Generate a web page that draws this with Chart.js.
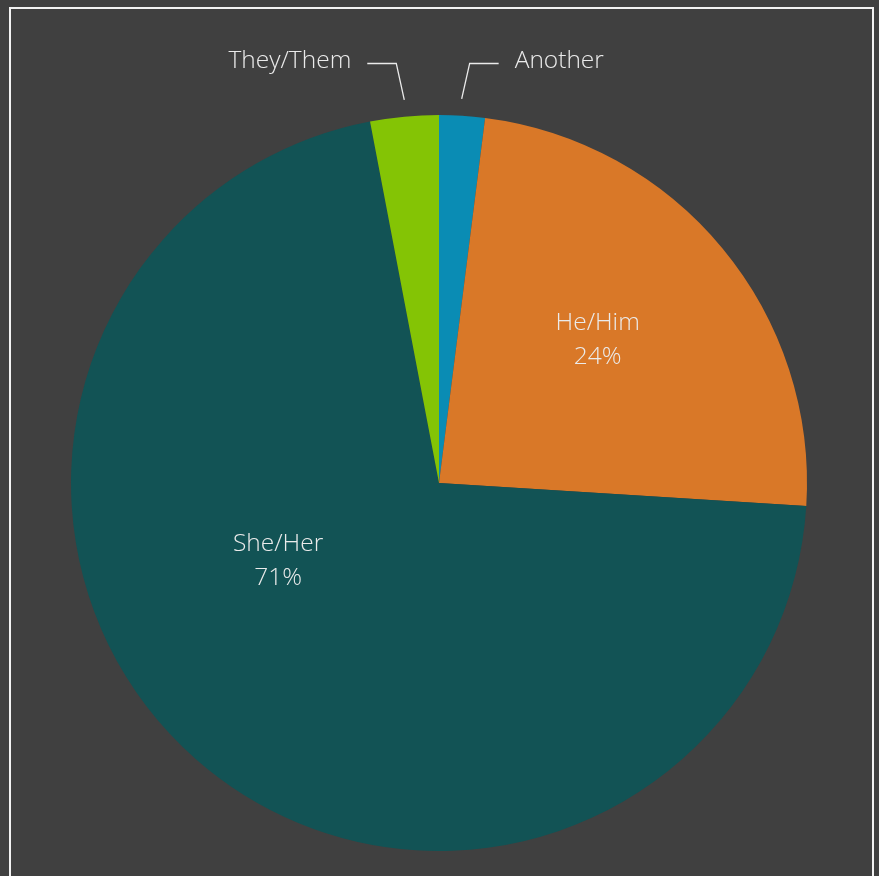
<!DOCTYPE html>
<html>
<head>
<meta charset="utf-8">
<title>Pronouns</title>
<script src="https://cdn.jsdelivr.net/npm/chart.js@4"></script>
<style>
  html, body { margin: 0; padding: 0; background: #404040; }
  #wrap { width: 879px; height: 876px; position: relative; }
</style>
</head>
<body>
<div id="wrap"><canvas id="chart-pronombres" width="879" height="876"></canvas></div>
<script>
// Datos del gráfico: orden en sentido horario empezando arriba
const etiquetas = ['Another', 'He/Him', 'She/Her', 'They/Them'];
const porcentajes = [2, 24, 71, 3];
const colores = ['#0a8cb4', '#d97828', '#125355', '#84c405'];

// Etiquetas dentro del sector (ángulo en grados desde arriba, radio relativo)
const etiquetasInternas = {
  'He/Him': { angulo: 47.8, radio: 0.582 },
  'She/Her': { angulo: 244.4, radio: 0.485 }
};
// Etiquetas externas con línea guía
const etiquetasExternas = ['Another', 'They/Them'];

const fuente = '300 24.5px "Open Sans", "Segoe UI", sans-serif';
const colorTexto = '#ebebeb';

const pluginEtiquetas = {
  id: 'etiquetasPastel',
  beforeDraw(chart) {
    const ctx = chart.ctx;
    ctx.save();
    ctx.fillStyle = '#404040';
    ctx.fillRect(0, 0, chart.width, chart.height);
    // marco blanco
    ctx.strokeStyle = '#f2f2f2';
    ctx.lineWidth = 2;
    ctx.beginPath();
    ctx.moveTo(10, chart.height + 5);
    ctx.lineTo(10, 8);
    ctx.lineTo(873, 8);
    ctx.lineTo(873, chart.height + 5);
    ctx.stroke();
    ctx.restore();
  },
  afterDraw(chart) {
    const ctx = chart.ctx;
    const arcos = chart.getDatasetMeta(0).data;
    const cx = arcos[0].x;
    const cy = arcos[0].y;
    const R = arcos[0].outerRadius;
    ctx.save();
    ctx.font = fuente;
    ctx.fillStyle = colorTexto;
    ctx.textBaseline = 'middle';

    etiquetas.forEach((nombre, i) => {
      const arco = arcos[i];
      const texto = porcentajes[i] + '%';
      if (etiquetasInternas[nombre]) {
        const p = etiquetasInternas[nombre];
        const a = p.angulo * Math.PI / 180;
        const x = cx + Math.sin(a) * R * p.radio;
        const y = cy - Math.cos(a) * R * p.radio;
        ctx.textAlign = 'center';
        ctx.fillText(nombre, x, y - 16);
        ctx.fillText(texto, x, y + 18);
      } else if (etiquetasExternas.includes(nombre)) {
        // ángulo medio del sector, medido desde arriba
        const medio = (arco.startAngle + arco.endAngle) / 2 + Math.PI / 2;
        const lado = Math.sin(medio) >= 0 ? 1 : -1;
        const x0 = cx + Math.sin(medio) * R * 1.046 - lado * 1.5;
        const y0 = cy - Math.cos(medio) * R * 1.046;
        const x1 = x0 + lado * 8;
        const y1 = cy - R * 1.14;
        const x2 = x1 + lado * 29;
        ctx.strokeStyle = colorTexto;
        ctx.lineWidth = 1.3;
        ctx.beginPath();
        ctx.moveTo(x0, y0);
        ctx.lineTo(x1, y1);
        ctx.lineTo(x2, y1);
        ctx.stroke();
        ctx.textAlign = lado > 0 ? 'left' : 'right';
        ctx.fillText(nombre, x2 + lado * 16, y1 - 2);
      }
    });
    ctx.restore();
  }
};

const ctx = document.getElementById('chart-pronombres').getContext('2d');
new Chart(ctx, {
  type: 'pie',
  data: {
    labels: etiquetas,
    datasets: [{
      data: porcentajes,
      backgroundColor: colores,
      borderWidth: 0
    }]
  },
  options: {
    responsive: false,
    animation: false,
    layout: {
      padding: { top: 115, bottom: 25, left: 71, right: 72 }
    },
    plugins: {
      legend: { display: false },
      tooltip: { enabled: false }
    }
  },
  plugins: [pluginEtiquetas]
});
</script>
</body>
</html>
